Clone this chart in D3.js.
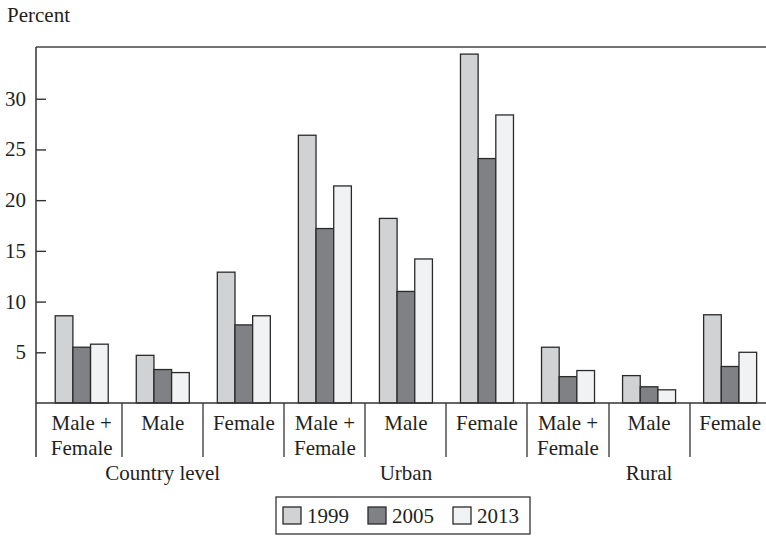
<!DOCTYPE html>
<html><head><meta charset="utf-8">
<script src="https://cdn.jsdelivr.net/npm/d3@7"></script>
<style>
html,body{margin:0;padding:0;background:#fff;}
svg{display:block;}
</style></head>
<body><svg id="chart" width="766" height="536"></svg>
<script>
const categories = ["Male +\nFemale","Male","Female","Male +\nFemale","Male","Female","Male +\nFemale","Male","Female"];
const groups = ["Country level","Urban","Rural"];
const years = ["1999","2005","2013"];
const values1999 = [8.6, 4.7, 12.9, 26.4, 18.2, 34.4, 5.5, 2.7, 8.7];
const values2005 = [5.5, 3.3, 7.7, 17.2, 11.0, 24.1, 2.6, 1.6, 3.6];
const values2013 = [5.8, 3.0, 8.6, 21.4, 14.2, 28.4, 3.2, 1.3, 5.0];
const yTicks = [5,10,15,20,25,30];
const colors = ["#d1d2d4","#808184","#f1f2f3"];
const seriesValues = [values1999, values2005, values2013];

(function(){
const svg = d3.select("#chart");
const FONT = "'Liberation Serif', Tinos, 'Times New Roman', Times, 'DejaVu Serif', serif";
const axisX = 36, plotTop = 47, base = 403;
const idx = categories.map((c,i)=>i);
const x0 = d3.scaleBand().domain(idx).range([41.2, 770.65]).paddingInner(0.346).paddingOuter(0.173);
const x1 = d3.scaleBand().domain(years).range([0, x0.bandwidth()]);
const y = d3.scaleLinear().domain([0, 35.1]).range([base, plotTop]);
const stroke = "#2b2a2a";
const fs = 21;
const T = (sel)=>sel.attr("font-family",FONT).attr("fill","#231f20").attr("font-size",fs);

T(svg.append("text").attr("x",7).attr("y",22)).text("Percent");

svg.append("line").attr("x1",axisX).attr("x2",766).attr("y1",plotTop).attr("y2",plotTop)
  .attr("stroke","#444").attr("stroke-width",1.6);

const step = x0.step();
idx.forEach(i=>{
  years.forEach((yr,j)=>{
    const v = seriesValues[j][i];
    svg.append("rect")
      .attr("x", x0(i)+x1(yr))
      .attr("y", y(v))
      .attr("width", x1.bandwidth())
      .attr("height", base - y(v))
      .attr("fill", colors[j])
      .attr("stroke", stroke).attr("stroke-width",1.3);
  });
});

const yAxis = d3.axisRight(y).tickValues(yTicks).tickSize(10).tickFormat("");
const ya = svg.append("g").attr("transform",`translate(${axisX},0)`).call(yAxis);
ya.select(".domain").remove();
ya.selectAll("line").attr("stroke","#333").attr("stroke-width",1.4);
yTicks.forEach(d=>{
  T(svg.append("text").attr("x",26).attr("y",y(d)).attr("dy","0.33em").attr("text-anchor","end")).text(d);
});

svg.append("line").attr("x1",axisX).attr("x2",axisX).attr("y1",plotTop).attr("y2",457)
  .attr("stroke","#333").attr("stroke-width",1.5);
svg.append("line").attr("x1",axisX).attr("x2",766).attr("y1",base).attr("y2",base)
  .attr("stroke","#333").attr("stroke-width",1.5);

idx.slice(1).forEach(i=>{
  const sx = Math.round(x0(i) - step*x0.paddingInner()/2);
  svg.append("line").attr("x1",sx).attr("x2",sx).attr("y1",base).attr("y2",457)
    .attr("stroke","#333").attr("stroke-width",1.3);
});

idx.forEach(i=>{
  const cx = x0(i) + x0.bandwidth()/2;
  categories[i].split("\n").forEach((l,k)=>{
    T(svg.append("text").attr("x",cx).attr("y",430 + k*25).attr("text-anchor","middle")).text(l);
  });
});

groups.forEach((g,gi)=>{
  const a = x0(gi*3) - step*0.173, b = x0(gi*3+2) + x0.bandwidth() + step*0.173;
  T(svg.append("text").attr("x",(a+b)/2).attr("y",480).attr("text-anchor","middle")).text(g);
});

const lg = svg.append("g");
lg.append("rect").attr("x",276).attr("y",497).attr("width",254).attr("height",37)
  .attr("fill","none").attr("stroke","#333").attr("stroke-width",1.3);
years.forEach((yr,j)=>{
  const lx = 283 + j*85;
  lg.append("rect").attr("x",lx).attr("y",507).attr("width",18).attr("height",17)
    .attr("fill",colors[j]).attr("stroke",stroke).attr("stroke-width",1.3);
  T(lg.append("text").attr("x",lx+24).attr("y",523)).text(yr);
});
})();
</script></body></html>
